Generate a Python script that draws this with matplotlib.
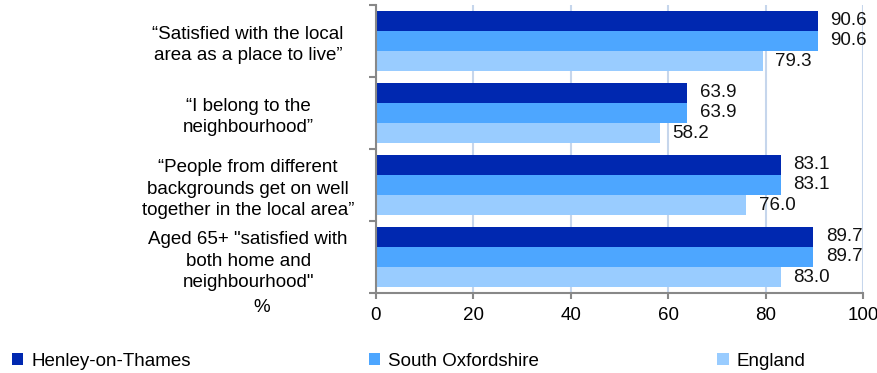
import numpy as np
import matplotlib
matplotlib.use("Agg")
import matplotlib.pyplot as plt

plt.rcParams['font.family'] = ['Liberation Sans', 'DejaVu Sans']

categories = [
    "\u201cSatisfied with the local\narea as a place to live\u201d",
    "\u201cI belong to the\nneighbourhood\u201d",
    "\u201cPeople from different\nbackgrounds get on well\ntogether in the local area\u201d",
    "Aged 65+ \"satisfied with\nboth home and\nneighbourhood\"",
]
series_names = ["Henley-on-Thames", "South Oxfordshire", "England"]
henley = [90.6, 63.9, 83.1, 89.7]
south_oxon = [90.6, 63.9, 83.1, 89.7]
england = [79.3, 58.2, 76.0, 83.0]
colors = ["#0028B0", "#4DA6FF", "#99CCFF"]
xticks = [0, 20, 40, 60, 80, 100]

fig = plt.figure(figsize=(8.78, 3.73), dpi=100)
ax = fig.add_axes([0.4282, 0.2145, 0.5552, 0.7721])

y = np.arange(len(categories))
h = 0.278
fs = 13.5
for i, (name, vals) in enumerate(zip(series_names, [henley, south_oxon, england])):
    bars = ax.barh(y + (i - 1) * h, vals, height=h, color=colors[i], label=name, zorder=2)
    ax.bar_label(bars, labels=[f"{v:.1f}" for v in vals], padding=9, fontsize=fs, color="#111111")

ax.set_xlim(0, 100)
ax.set_ylim(3.5, -0.5)
ax.set_xticks(xticks)
ax.set_xticklabels([str(t) for t in xticks], fontsize=fs)
ax.tick_params(axis='x', length=4, width=1.5, color="#888888", pad=6)
ax.xaxis.grid(True, color="#C6D6EC", linewidth=1.5, zorder=0)

ax.set_yticks(y)
ax.set_yticklabels(categories, fontsize=fs, ha='center', linespacing=1.33)
ax.tick_params(axis='y', which='major', length=0, pad=92)
ax.set_yticks(np.arange(-0.5, 4, 1), minor=True)
ax.tick_params(axis='y', which='minor', length=5, width=1.5, color="#888888")

for s in ['top', 'right']:
    ax.spines[s].set_visible(False)
for s in ['left', 'bottom']:
    ax.spines[s].set_color("#888888")
    ax.spines[s].set_linewidth(1.5)

fig.text(262 / 878, 1 - 307 / 373, "%", ha='center', va='center', fontsize=fs)

fig.legend(loc='center left', bbox_to_anchor=(12 / 878, 1 - 361 / 373), ncol=3,
           frameon=False, fontsize=fs, handlelength=0.6, handleheight=0.6,
           handletextpad=0.43, columnspacing=9.5, borderpad=0, borderaxespad=0)

fig.savefig("out.png", dpi=100)
